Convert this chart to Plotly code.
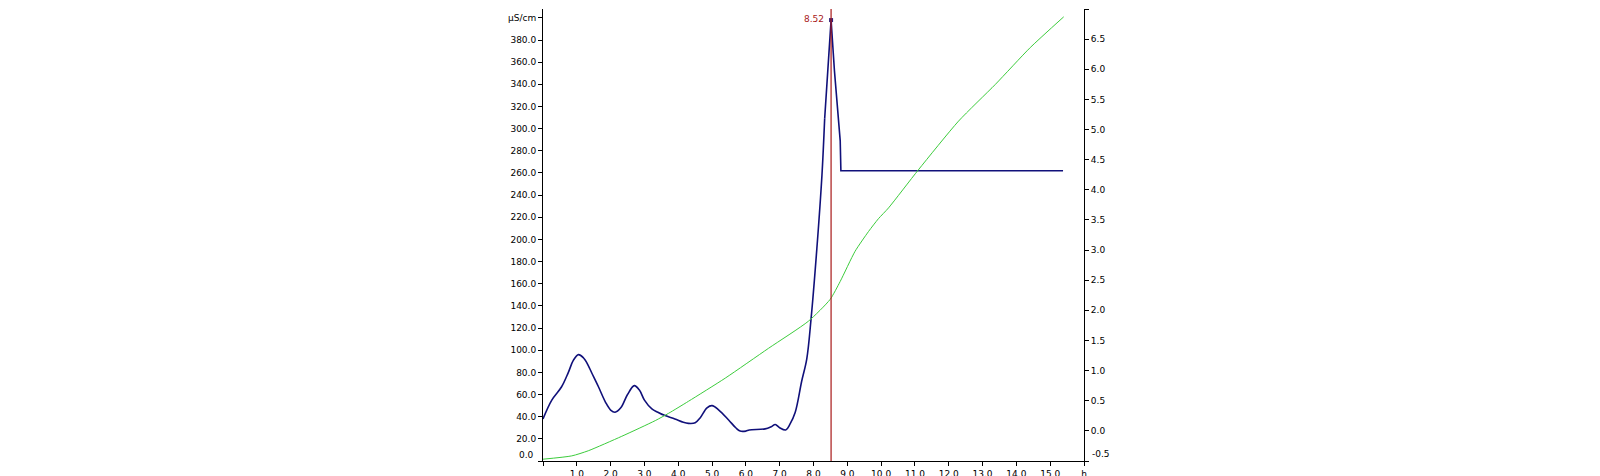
import plotly.graph_objects as go

# conductivity curve (μS/cm, left axis) - smooth part
cond_h = [0.0, 0.26, 0.55, 0.75, 0.9, 1.05, 1.2, 1.29, 1.45, 1.64, 1.85, 2.0, 2.13,
          2.3, 2.5, 2.7, 2.85, 3.0, 3.22, 3.4, 3.61, 3.9, 4.15, 4.3, 4.5, 4.65, 4.85,
          5.0, 5.2, 5.49, 5.7, 5.83, 6.0, 6.1, 6.57, 6.75, 6.87, 7.0, 7.18, 7.3, 7.46,
          7.65, 7.8, 7.93, 8.1, 8.25, 8.33]
cond_val = [38, 55, 67, 80, 91, 96, 93, 89, 79, 67, 53, 46, 44,
            48, 60, 68, 64, 55, 47, 44, 41, 38, 35, 34, 34.5, 39, 48,
            50, 46, 37, 30, 27, 27, 28, 29, 31, 33, 30, 28, 33, 44,
            72, 92, 129, 192, 258, 309]
# peak and plateau
peak_part_h = [8.33, 8.42, 8.52, 8.62, 8.72, 8.79, 8.81, 15.38]
peak_part_val = [309, 350, 398, 352, 318, 289, 262, 262]

# second curve (right axis)
sec_h = [0.0, 0.85, 1.34, 2.33, 3.32, 3.71, 4.3, 5.39, 6.67, 7.85, 8.49, 8.79, 9.23,
         9.63, 9.92, 10.22, 11.1, 12.29, 13.38, 14.41, 15.4]
sec_val = [-0.47, -0.415, -0.33, -0.09, 0.17, 0.29, 0.49, 0.875, 1.37, 1.82, 2.18, 2.48, 2.98,
           3.31, 3.52, 3.7, 4.33, 5.14, 5.75, 6.36, 6.87]

peak_h = 8.52
peak_val = 398

x_ticks = list(range(0, 17))
x_labels = [""] + ["%.1f" % v for v in range(1, 16)] + ["h"]
y_ticks = list(range(0, 401, 20))
y_labels = [""] + ["%.1f" % v for v in range(20, 400, 20)] + ["μS/cm"]
y2_ticks = [v / 2 for v in range(-1, 15)]
y2_labels = [""] + ["%.1f" % v for v in y2_ticks[1:-1]] + [""]

font = dict(family="DejaVu Sans", size=9, color="#000000")
blue = "#10107a"
red = "#a81818"

fig = go.Figure()
fig.add_trace(go.Scatter(x=sec_h, y=sec_val, mode="lines", yaxis="y2",
                         line=dict(color="#3ccc3c", width=1, shape="spline", smoothing=0.6)))
fig.add_trace(go.Scatter(x=cond_h, y=cond_val, mode="lines",
                         line=dict(color=blue, width=1.6, shape="spline", smoothing=1)))
fig.add_trace(go.Scatter(x=peak_part_h, y=peak_part_val, mode="lines",
                         line=dict(color=blue, width=1.6)))
fig.add_trace(go.Scatter(x=[peak_h], y=[peak_val], mode="markers",
                         marker=dict(color="#30207a", size=4, symbol="square")))

fig.add_shape(type="line", xref="x", yref="paper", x0=peak_h, x1=peak_h, y0=0, y1=1,
              line=dict(color=red, width=1.2))
fig.add_annotation(x=peak_h, y=peak_val, text="%.2f" % peak_h, showarrow=False,
                   xanchor="right", xshift=-5, yshift=1,
                   font=dict(family="DejaVu Sans", size=9, color=red))
# bottom labels sit a bit higher than their ticks
fig.add_annotation(xref="paper", x=0, y=0, text="0.0", showarrow=False, xanchor="right",
                   xshift=-7, yshift=6, font=font)
fig.add_annotation(xref="paper", x=1, y=-0.5, yref="y2", text="-0.5", showarrow=False,
                   xanchor="left", xshift=6, yshift=7, font=font)

fig.update_layout(
    width=1600, height=476,
    margin=dict(l=535, r=524, t=1, b=23),
    plot_bgcolor="white", paper_bgcolor="white",
    showlegend=False, font=font,
    xaxis=dict(range=[0, 16], tickvals=x_ticks, ticktext=x_labels, showgrid=False,
               zeroline=False, showline=True, linecolor="black", linewidth=1,
               ticks="outside", ticklen=4, tickcolor="black"),
    yaxis=dict(range=[0, 408], tickvals=y_ticks, ticktext=y_labels, showgrid=False,
               zeroline=False, showline=True, linecolor="black", linewidth=1,
               ticks="outside", ticklen=4, tickcolor="black"),
    yaxis2=dict(range=[-0.5, 7.0], overlaying="y", side="right", tickvals=y2_ticks,
                ticktext=y2_labels, showgrid=False, zeroline=False, showline=True,
                linecolor="black", linewidth=1, ticks="outside", ticklen=4,
                tickcolor="black"),
)

fig.write_html("out.html")
